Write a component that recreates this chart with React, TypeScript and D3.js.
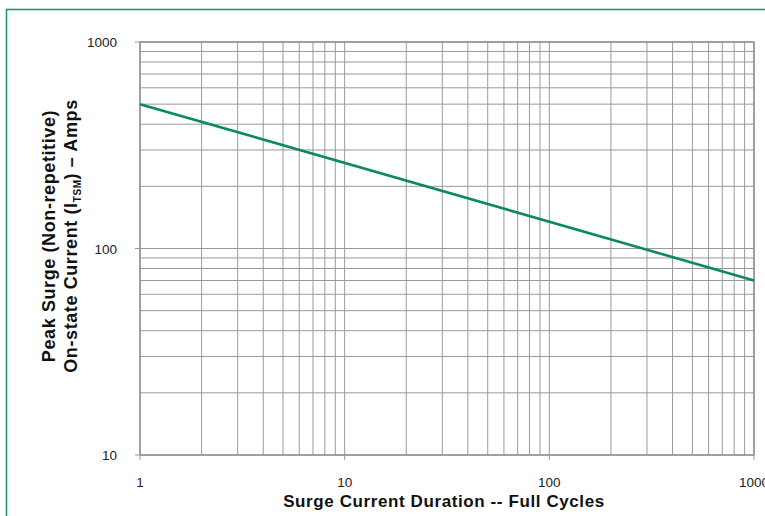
import React from "react";
import * as d3 from "d3";

const xDomain = [1, 1000];
const yDomain = [10, 1000];
const xTickLabels = [1, 10, 100, 1000];
const yTickLabels = [10, 100, 1000];
const cycles = [1, 1000];
const surgeAmps = [500, 70];

const W = 765;
const H = 516;
const M = { left: 140, right: 754, top: 42, bottom: 455 };

function minorTicks(lo: number, hi: number): number[] {
  const out: number[] = [];
  for (let d = lo; d < hi; d *= 10) {
    for (let k = 1; k <= 10; k++) {
      const v = d * k;
      if (v <= hi) out.push(v);
    }
  }
  return Array.from(new Set(out));
}

export default function App() {
  const x = d3.scaleLog().domain(xDomain).range([M.left, M.right]);
  const y = d3.scaleLog().domain(yDomain).range([M.bottom, M.top]);
  const xGrid = minorTicks(xDomain[0], xDomain[1]);
  const yGrid = minorTicks(yDomain[0], yDomain[1]);
  const pts = cycles.map((c, i) => [c, surgeAmps[i]] as [number, number]);
  const line = d3
    .line<[number, number]>()
    .x((d) => x(d[0]))
    .y((d) => y(d[1]));
  const font = "'Liberation Sans', Arial, Helvetica, sans-serif";
  const grid = "#9a9a9a";
  const green = "#0b8a5a";
  return (
    <svg
      width={W}
      height={H}
      style={{ position: "absolute", left: 0, top: 0, background: "#fff" }}
      fontFamily={font}
    >
      <rect x={6.5} y={9.5} width={W + 20} height={H + 20} fill="none" stroke="#1f9a6a" strokeWidth={1.6} />
      {xGrid.map((v) => (
        <line key={"xg" + v} x1={x(v)} x2={x(v)} y1={M.top} y2={M.bottom} stroke={grid} strokeWidth={1} />
      ))}
      {yGrid.map((v) => (
        <line key={"yg" + v} x1={M.left} x2={M.right} y1={y(v)} y2={y(v)} stroke={grid} strokeWidth={1} />
      ))}
      <rect x={M.left} y={M.top} width={M.right - M.left} height={M.bottom - M.top} fill="none" stroke="#888" strokeWidth={1.3} />
      {xTickLabels.map((v) => (
        <g key={"xt" + v}>
          <line x1={x(v)} x2={x(v)} y1={M.bottom} y2={M.bottom + 5} stroke={grid} />
          <text x={x(v)} y={M.bottom + 32} textAnchor="middle" fontSize={13.5} fill="#222">
            {v}
          </text>
        </g>
      ))}
      {yTickLabels.map((v) => (
        <g key={"yt" + v}>
          <line x1={M.left - 5} x2={M.left} y1={y(v)} y2={y(v)} stroke={grid} />
          <text x={M.left - 23} y={y(v) + 5} textAnchor="end" fontSize={13.5} fill="#222">
            {v}
          </text>
        </g>
      ))}
      <path d={line(pts) || ""} fill="none" stroke={green} strokeWidth={2.6} />
      <text x={444} y={507} textAnchor="middle" fontSize={17} fontWeight="bold" fill="#111" letterSpacing={0.6}>
        Surge Current Duration -- Full Cycles
      </text>
      <g transform="translate(55,236) rotate(-90)" fontSize={18} fontWeight="bold" fill="#111" letterSpacing={0.6}>
        <text x={0} y={0} textAnchor="middle">
          Peak Surge (Non-repetitive)
        </text>
        <text x={0} y={22} textAnchor="middle">
          On-state Current (I
          <tspan fontSize={10} dy={4}>TSM</tspan>
          <tspan dy={-4}>) – Amps</tspan>
        </text>
      </g>
    </svg>
  );
}
